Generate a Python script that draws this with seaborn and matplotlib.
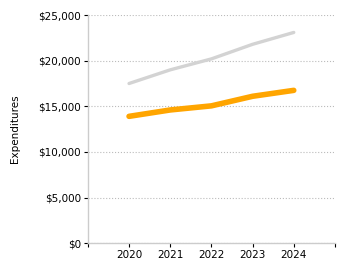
import pandas as pd
import matplotlib
matplotlib.use("Agg")
import matplotlib.pyplot as plt
import seaborn as sns
from matplotlib.ticker import FuncFormatter

years = [2020, 2021, 2022, 2023, 2024]
gray_series = [17500, 19000, 20200, 21800, 23100]
orange_series = [13900, 14600, 15050, 16100, 16750]

df = pd.DataFrame({
    "Year": years * 2,
    "Expenditures": gray_series + orange_series,
    "Series": ["A"] * 5 + ["B"] * 5,
})

sns.set_style("white")
plt.rcParams["font.family"] = ["DejaVu Sans"]

fig = plt.figure(figsize=(3.5, 2.75), dpi=100)
ax = fig.add_axes([0.251, 0.116, 0.706, 0.829])

sns.lineplot(data=df[df.Series == "A"], x="Year", y="Expenditures", color="#d3d3d3",
             linewidth=2.4, ax=ax, legend=False)
sns.lineplot(data=df[df.Series == "B"], x="Year", y="Expenditures", color="#ffa500",
             linewidth=4, ax=ax, legend=False)

ax.set_xlim(2019, 2025)
ax.set_ylim(0, 25000)
ax.set_xticks(range(2019, 2026))
ax.set_xticklabels([""] + [str(y) for y in years] + [""])
ax.set_yticks(range(0, 25001, 5000))
ax.yaxis.set_major_formatter(FuncFormatter(lambda v, p: f"${int(v):,}"))
ax.grid(axis="y", linestyle=":", color="#bbbbbb", linewidth=0.8)
ax.set_axisbelow(True)

for s in ["top", "right"]:
    ax.spines[s].set_visible(False)
for s in ["left", "bottom"]:
    ax.spines[s].set_color("#cccccc")
    ax.spines[s].set_linewidth(1)

ax.tick_params(axis="both", length=3, width=0.8, color="black", labelcolor="black",
               labelsize=7.5, pad=2, direction="out")
ax.tick_params(left=True, bottom=True)
ax.set_xlabel("")
ax.set_ylabel("Expenditures", fontsize=7.5, color="black")
ax.yaxis.set_label_coords(-0.275, 0.5)

fig.savefig("out.png", dpi=100)
